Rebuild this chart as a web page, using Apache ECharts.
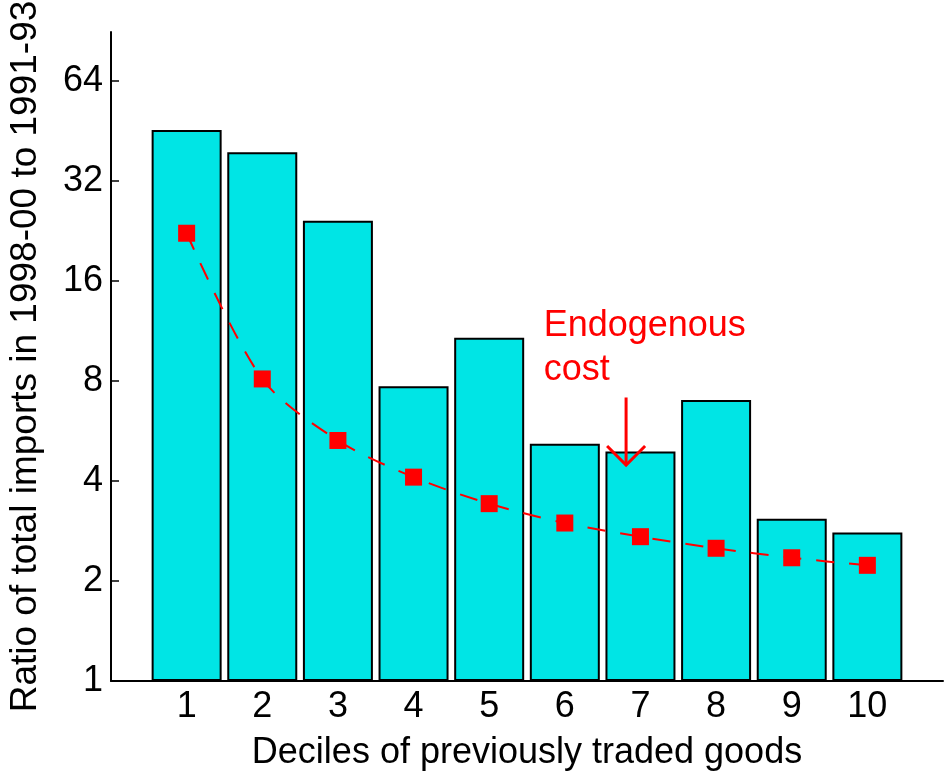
<!DOCTYPE html>
<html>
<head>
<meta charset="utf-8">
<title>Ratio of total imports by decile</title>
<script src="https://cdn.jsdelivr.net/npm/echarts@6/dist/echarts.min.js"></script>
<style>
  html, body { margin: 0; padding: 0; background: #fff; }
  #chart { width: 944px; height: 774px; }
</style>
</head>
<body>
<div id="chart"></div>
<script>
// deciles on the x axis
const deciles = [1, 2, 3, 4, 5, 6, 7, 8, 9, 10]
// bar heights: ratio of total imports 1998-00 to 1991-93
const barValues = [45.6, 39.1, 24.3, 7.72, 10.8, 5.18, 4.91, 7.02, 3.08, 2.8]
// red squares: endogenous cost model
const modelValues = [22.3, 8.12, 5.30, 4.11, 3.42, 2.99, 2.72, 2.51, 2.35, 2.23]
// y tick labels (log2 scale)
const yTicks = [1, 2, 4, 8, 16, 32, 64]

// annotation: arrow x, arrow start / end values, text anchor
const noteLines = ['Endogenous', 'cost']
const noteAnchor = [5.72, 13.6]
const arrowX = 6.81
const arrowFrom = 7.14
const arrowTo = 4.47

const FONT = '"Liberation Sans", Arial, sans-serif'

const chart = echarts.init(document.getElementById('chart'), null, { renderer: 'canvas' })

chart.setOption({
  animation: false,
  backgroundColor: '#ffffff',
  textStyle: { fontFamily: FONT },
  grid: {
    left: 111,
    right: 1,
    top: 32,
    bottom: 93,
    containLabel: false,
    outerBoundsMode: 'none'
  },
  xAxis: {
    type: 'value',
    min: 0,
    max: 11,
    name: 'Deciles of previously traded goods',
    nameLocation: 'middle',
    nameGap: 54,
    nameTextStyle: { fontSize: 36, color: '#000', fontFamily: FONT },
    splitLine: { show: false },
    axisLine: { onZero: false, lineStyle: { color: '#000', width: 2 } },
    axisTick: { show: false },
    axisLabel: {
      customValues: deciles,
      fontSize: 36,
      color: '#000',
      margin: 8,
      fontFamily: FONT
    }
  },
  yAxis: {
    type: 'log',
    logBase: 2,
    min: 1,
    max: 90,
    name: 'Ratio of total imports in 1998-00 to 1991-93',
    nameLocation: 'middle',
    nameGap: 67,
    nameTextStyle: { fontSize: 37, color: '#000', fontFamily: FONT },
    splitLine: { show: false },
    axisLine: { onZero: false, lineStyle: { color: '#000', width: 2 } },
    axisTick: {
      inside: true,
      length: 8,
      customValues: yTicks,
      lineStyle: { color: '#000', width: 1.5 }
    },
    axisLabel: {
      customValues: yTicks,
      fontSize: 36,
      color: '#000',
      margin: 8,
      fontFamily: FONT
    }
  },
  series: [
    {
      type: 'bar',
      data: deciles.map((d, i) => [d, barValues[i]]),
      barWidth: 70,
      itemStyle: { color: '#00e5e5', borderColor: '#000', borderWidth: 2 },
      z: 2
    },
    {
      type: 'line',
      data: deciles.map((d, i) => [d, modelValues[i]]),
      smooth: 0.3,
      symbol: 'rect',
      symbolSize: 17,
      itemStyle: { color: '#ff0000' },
      lineStyle: { color: '#ff0000', width: 2, type: [18, 15] },
      z: 3
    },
    {
      type: 'custom',
      data: [[arrowX, arrowFrom, arrowTo, noteAnchor[0], noteAnchor[1]]],
      z: 4,
      renderItem: (params, api) => {
        const start = api.coord([api.value(0), api.value(1)])
        const tip = api.coord([api.value(0), api.value(2)])
        const textPos = api.coord([api.value(3), api.value(4)])
        const red = '#ff0000'
        return {
          type: 'group',
          children: [
            {
              type: 'line',
              shape: { x1: start[0], y1: start[1], x2: tip[0], y2: tip[1] },
              style: { stroke: red, lineWidth: 3 }
            },
            {
              type: 'polyline',
              shape: { points: [[tip[0] - 19, tip[1] - 19], tip, [tip[0] + 19, tip[1] - 19]] },
              style: { stroke: red, lineWidth: 3, fill: null }
            },
            {
              type: 'text',
              x: textPos[0],
              y: textPos[1],
              style: {
                text: noteLines.join('\n'),
                fill: red,
                font: '36px ' + FONT,
                lineHeight: 44,
                align: 'left',
                verticalAlign: 'top'
              }
            }
          ]
        }
      }
    }
  ]
})
</script>
</body>
</html>
